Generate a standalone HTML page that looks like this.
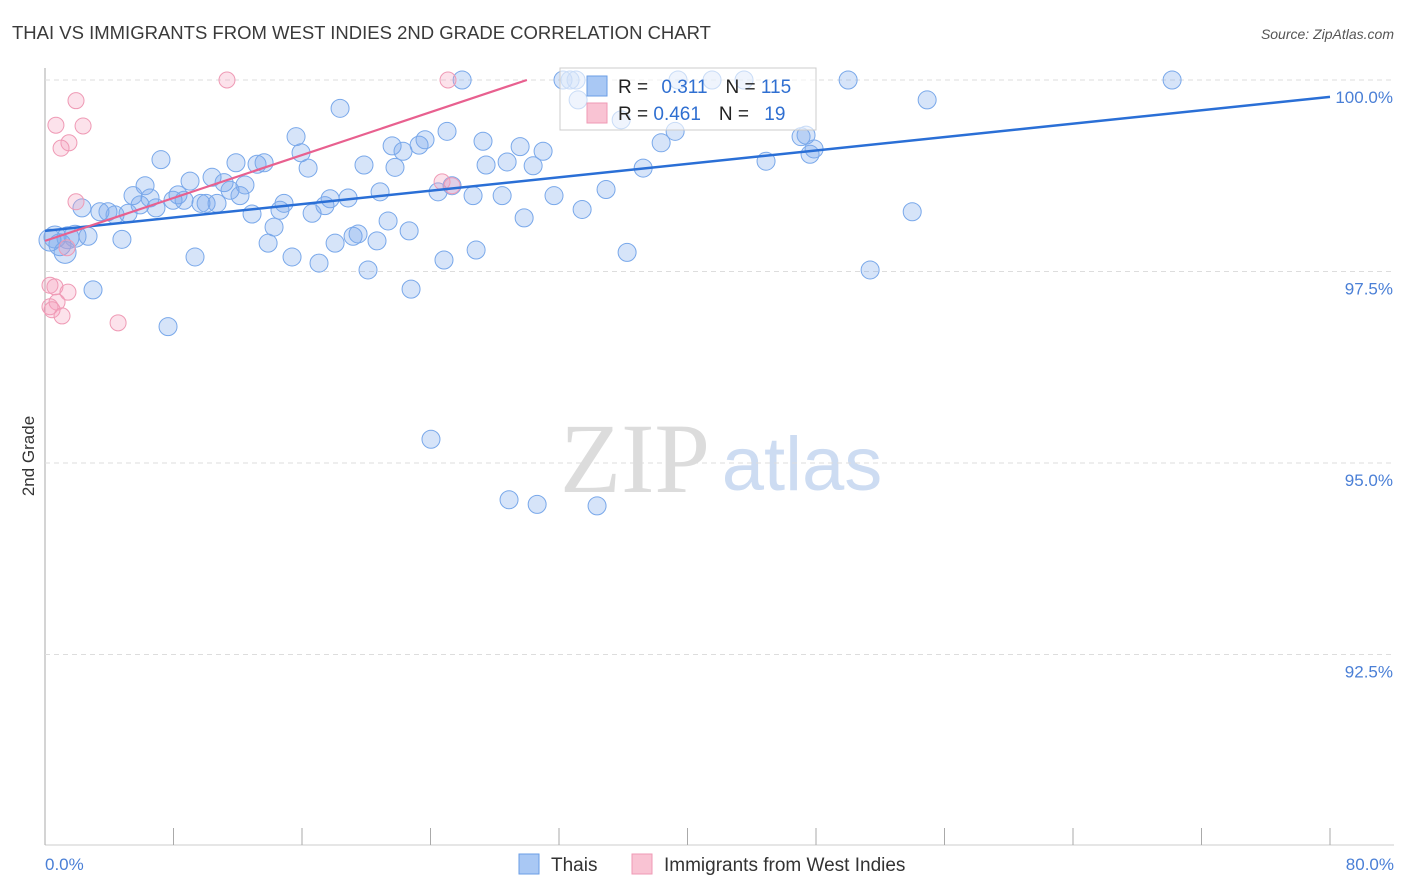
<!DOCTYPE html>
<html><head><meta charset="utf-8"><style>
body{margin:0;background:#fff;font-family:"Liberation Sans",sans-serif;}
svg{display:block}
</style></head><body>
<svg width="1406" height="892">
<text x="12" y="39" font-size="18.5" fill="#3a3a3a">THAI VS IMMIGRANTS FROM WEST INDIES 2ND GRADE CORRELATION CHART</text>
<text x="1394" y="39" font-size="14" fill="#555" font-style="italic" text-anchor="end">Source: ZipAtlas.com</text>
<text x="635" y="492" font-size="100" fill="#dcdcdc" font-family="Liberation Serif" text-anchor="middle">ZIP</text>
<text x="802" y="490" font-size="76" fill="#cddcf2" text-anchor="middle">atlas</text>
<g id="grid"></g>
<g id="marks"></g>
<g id="lines"></g>
<text transform="translate(34,456) rotate(-90)" font-size="17" fill="#333" text-anchor="middle">2nd Grade</text>
<g>
<rect x="560" y="68" width="256" height="62" fill="#fff" fill-opacity="0.6" stroke="#ccc"/>
<rect x="587" y="76" width="20" height="20" fill="#a9c8f4" stroke="#6a9ee6"/>
<rect x="587" y="103" width="20" height="20" fill="#f9c3d3" stroke="#ef9ab5"/>
<text x="618" y="93" font-size="19" fill="#222">R = <tspan fill="#2f6fd1" dx="8">0.311</tspan><tspan dx="18" fill="#222">N = </tspan><tspan fill="#2f6fd1">115</tspan></text>
<text x="618" y="120" font-size="19" fill="#222">R = <tspan fill="#2f6fd1">0.461</tspan><tspan dx="18" fill="#222">N = </tspan><tspan fill="#2f6fd1" dx="10">19</tspan></text>
</g>
<g>
<rect x="519" y="854" width="20" height="20" fill="#a9c8f4" stroke="#6a9ee6"/>
<text x="551" y="871" font-size="19" fill="#333">Thais</text>
<rect x="632" y="854" width="20" height="20" fill="#f9c3d3" stroke="#ef9ab5"/>
<text x="664" y="871" font-size="19" fill="#333">Immigrants from West Indies</text>
</g>
</svg>
<script>
const xTickValues=[0,8,16,24,32,40,48,56,64,72,80];
const yTickValues=[100,97.5,95,92.5];
const yTickLabels=["100.0%","97.5%","95.0%","92.5%"];
const xEndLabels=["0.0%","80.0%"];
const thaiX=[0.31,0.62,0.93,1.25,1.43,1.87,2.68,2.30,2.99,3.42,3.92,4.36,4.79,5.17,5.48,5.92,6.23,6.54,6.91,7.22,7.66,7.97,8.28,8.66,9.03,9.34,9.71,10.03,10.40,10.71,11.15,11.52,11.89,12.14,12.45,12.89,13.20,13.64,13.89,14.26,14.63,14.88,15.38,15.63,15.94,16.38,16.63,17.06,17.43,17.75,18.06,18.37,18.87,19.18,19.49,19.86,20.11,20.67,20.86,21.36,21.61,21.79,22.29,22.67,22.79,23.29,23.66,24.03,24.47,24.84,25.03,25.34,25.97,26.65,26.84,27.27,27.46,28.46,28.77,28.89,29.58,29.83,30.39,30.64,31.01,31.69,32.25,32.69,33.06,33.44,33.19,34.37,34.93,35.87,36.24,37.24,38.36,39.23,39.41,41.53,43.52,44.89,47.07,47.38,47.63,47.88,50.00,51.37,53.99,54.92,70.17];
const thaiY=[97.91,97.95,97.85,97.75,97.94,97.96,97.96,98.33,97.26,98.28,98.28,98.24,97.92,98.26,98.49,98.37,98.62,98.46,98.33,98.96,96.78,98.43,98.50,98.43,98.68,97.69,98.39,98.39,98.73,98.39,98.66,98.56,98.92,98.49,98.63,98.25,98.90,98.92,97.87,98.08,98.30,98.39,97.69,99.26,99.05,98.85,98.26,97.61,98.36,98.45,97.87,99.63,98.46,97.96,97.99,98.89,97.52,97.90,98.54,98.16,99.14,98.86,99.07,98.03,97.27,99.15,99.22,95.31,98.54,97.65,99.33,98.62,100,98.49,97.78,99.20,98.89,98.49,98.93,94.52,99.13,98.20,98.88,94.46,99.07,98.49,100,100,100,98.31,99.74,94.44,98.57,99.48,97.75,98.85,99.18,99.33,100,100,100,98.94,99.26,99.28,99.03,99.10,100,97.52,98.28,99.74,100];
const wiX=[0.68,1.93,2.37,1.49,1.00,1.93,1.37,0.31,0.62,1.43,0.75,0.31,0.44,1.06,4.55,11.33,25.09,24.72,25.34];
const wiY=[99.41,99.73,99.40,99.18,99.11,98.41,97.81,97.32,97.30,97.23,97.10,97.04,97.00,96.92,96.83,100,100,98.67,98.62];
const thaiTrend=[98.03,99.78]; // y at x=0 and x=80
const wiTrend=[97.9,100];       // y at x=0 and x=30
const wiTrendEndX=30;
const X=v=>45+v*(1285/80);
const Y=v=>80+(100-v)*76.6;
const NS='http://www.w3.org/2000/svg';
function mk(tag,attrs,parent){const e=document.createElementNS(NS,tag);for(const k in attrs)e.setAttribute(k,attrs[k]);parent.appendChild(e);return e;}
const grid=document.getElementById('grid'),marks=document.getElementById('marks'),lines=document.getElementById('lines');
let e=mk('line',{x1:45,y1:68,x2:45,y2:845,stroke:'#aaa'},grid);


e=mk('line',{x1:45,y1:845,x2:1394,y2:845,stroke:'#ccc'},grid);


yTickValues.forEach((v,i)=>{
 let g=mk('line',{x1:45,y1:Y(v),x2:1394,y2:Y(v),stroke:'#ddd','stroke-dasharray':'5,4'},grid);
 
 
 let t=mk('text',{x:1393,y:Y(v)+23,'font-size':17,fill:'#4a7fd6','text-anchor':'end'},grid);
 t.textContent=yTickLabels[i];
 
 
});
xTickValues.forEach(v=>{
 let t=mk('line',{x1:X(v),y1:828,x2:X(v),y2:845,stroke:'#aaa'},grid);
 
 
});
[[0,'start',45],[80,'end',1394]].forEach((d,i)=>{
 let t=mk('text',{x:d[2],y:870,'font-size':17,fill:'#4a7fd6','text-anchor':d[1]},grid);
 t.textContent=xEndLabels[i];
 
 
});
thaiX.forEach((x,i)=>{
 let c=mk('circle',{cx:X(x),cy:Y(thaiY[i]),r:x<2?11:9,fill:'rgba(120,165,235,0.3)',stroke:'#79a8ea','stroke-width':1},marks);
 
 
});
wiX.forEach((x,i)=>{
 let c=mk('circle',{cx:X(x),cy:Y(wiY[i]),r:8,fill:'rgba(245,160,190,0.3)',stroke:'#ef9ab5','stroke-width':1},marks);
 
 
});
e=mk('line',{x1:X(0),y1:Y(thaiTrend[0]),x2:X(80),y2:Y(thaiTrend[1]),stroke:'#2a6fd6','stroke-width':2.5},lines);


e=mk('line',{x1:X(0),y1:Y(wiTrend[0]),x2:X(wiTrendEndX),y2:Y(wiTrend[1]),stroke:'#e8608f','stroke-width':2.2},lines);


</script>
</body></html>
